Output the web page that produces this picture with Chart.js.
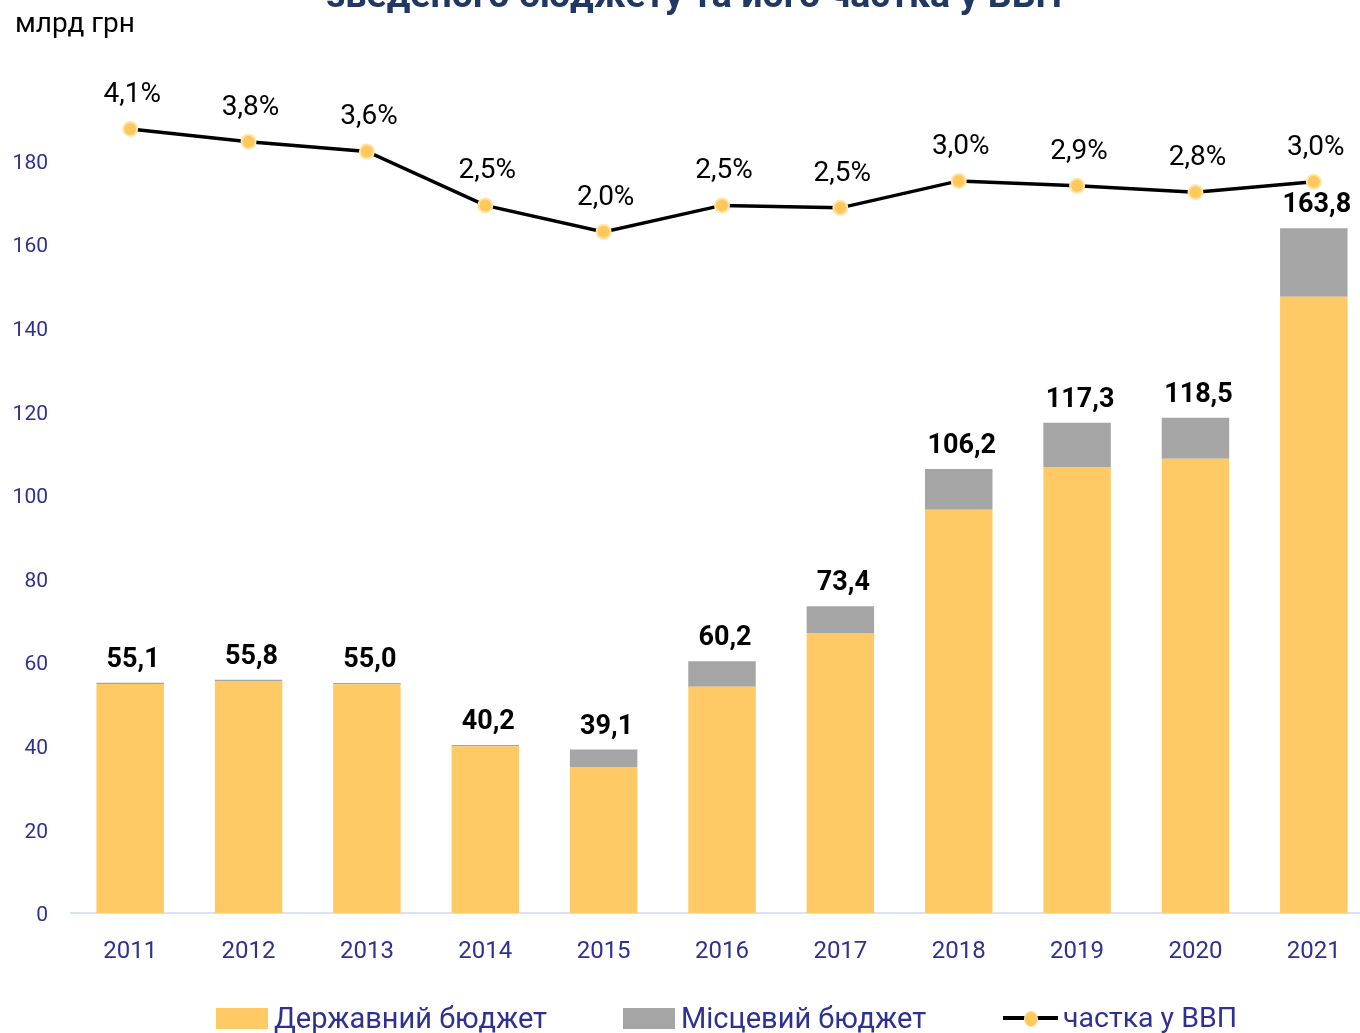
<!DOCTYPE html>
<html>
<head>
<meta charset="utf-8">
<script src="https://cdn.jsdelivr.net/npm/chart.js@4.4.0/dist/chart.umd.min.js"></script>
<style>
  body { margin: 0; overflow: hidden; background: #fff; font-family: Roboto, sans-serif; }
  #wrap { position: relative; width: 1382px; height: 1033px; }
  #chart { position: absolute; left: 0; top: 0; }
  .leg { position: absolute; top: 1001px; font-size: 29px; color: #2E3192; white-space: nowrap; display: flex; align-items: center; }
  .box { display: inline-block; width: 52px; height: 21px; margin-right: 6px; }
  .lineSym { position: relative; display: inline-block; width: 55px; height: 22px; margin-right: 5px; }
  .lineSym .ln { position: absolute; left: 0; right: 0; top: 9px; height: 4px; background: #000; }
  .lineSym .dt { position: absolute; left: 21px; top: 4px; width: 12px; height: 14px; border-radius: 50%; background: #FFC85C; border: 1px solid #FFE3A8; }
</style>
</head>
<body>
<div id="wrap">
  <canvas id="chart" width="1382" height="1033"></canvas>
  <div class="leg" style="left:216px"><span class="box" style="background:#FFCA66"></span>Державний бюджет</div>
  <div class="leg" style="left:623px"><span class="box" style="background:#A5A5A5"></span>Місцевий бюджет</div>
  <div class="leg" style="left:1003px; font-size:28.5px"><span class="lineSym"><span class="ln"></span><span class="dt"></span></span>частка у ВВП</div>
</div>
<script>
// data, млрд грн
var years = ['2011', '2012', '2013', '2014', '2015', '2016', '2017', '2018', '2019', '2020', '2021'];
var stateBudget = [54.8, 55.5, 54.7, 39.9, 34.9, 54.1, 67.0, 96.5, 106.7, 108.7, 147.4];
var localBudget = [0.3, 0.3, 0.3, 0.3, 4.2, 6.1, 6.4, 9.7, 10.6, 9.8, 16.4];
// частка у ВВП, %
var gdpShare = [4.1, 3.84, 3.64, 2.54, 2.0, 2.54, 2.49, 3.04, 2.94, 2.81, 3.02];

function fmt(v) {
    return v.toFixed(1).replace('.', ',');
}

var extras = {
    id: 'extras',
    afterDatasetsDraw: function (chart) {
        var ctx = chart.ctx;
        ctx.save();
        ctx.fillStyle = '#000';
        ctx.textAlign = 'center';
        ctx.textBaseline = 'alphabetic';

        // totals above stacked bars
        ctx.font = 'bold 27px Roboto';
        var top = chart.getDatasetMeta(1).data;
        top.forEach(function (bar, i) {
            ctx.fillText(fmt(stateBudget[i] + localBudget[i]), bar.x + 3, bar.y - 16);
        });

        // share labels above points
        ctx.font = '28px Roboto';
        var pts = chart.getDatasetMeta(2).data;
        pts.forEach(function (p, i) {
            ctx.fillText(fmt(gdpShare[i]) + '%', p.x + 2, p.y - 27);
        });

        // title (cut off on top) and unit
        ctx.font = 'bold 37.5px Roboto';
        ctx.fillStyle = '#1F3864';
        ctx.fillText('зведеного бюджету та його частка у ВВП', 694, 7);

        ctx.font = '28px Roboto';
        ctx.fillStyle = '#000';
        ctx.textAlign = 'left';
        ctx.fillText('млрд грн', 15, 32);
        ctx.restore();
    }
};

var ctx = document.getElementById('chart');

var myChart = new Chart(ctx, {
    type: 'bar',
    data: {
        labels: years,
        datasets: [{
            label: 'Державний бюджет',
            data: stateBudget,
            backgroundColor: '#FFCA66',
            stack: 's',
            order: 2,
            barPercentage: 0.57,
            categoryPercentage: 1
        }, {
            label: 'Місцевий бюджет',
            data: localBudget,
            backgroundColor: '#A5A5A5',
            stack: 's',
            order: 2,
            barPercentage: 0.57,
            categoryPercentage: 1
        }, {
            type: 'line',
            label: 'частка у ВВП',
            data: gdpShare,
            yAxisID: 'y1',
            borderColor: '#000',
            borderWidth: 3.5,
            pointRadius: 7,
            pointBackgroundColor: '#FFC85C',
            pointBorderColor: '#FFE3A8',
            pointBorderWidth: 2,
            tension: 0,
            order: 1
        }]
    },
    options: {
        responsive: false,
        animation: false,
        layout: {
            padding: { top: 77, right: 5, left: 0, bottom: 0 }
        },
        plugins: {
            legend: { display: false },
            title: { display: false },
            tooltip: { enabled: false }
        },
        scales: {
            x: {
                stacked: true,
                grid: { display: false, drawTicks: false },
                border: { display: true, color: '#DAE3F3', width: 2 },
                ticks: {
                    color: '#2E3192',
                    font: { size: 24, family: 'Roboto' },
                    padding: 25
                },
                afterFit: function (scale) { scale.height = 120; }
            },
            y: {
                stacked: true,
                min: 0,
                max: 200,
                grid: { display: false, drawTicks: false },
                border: { display: false },
                ticks: {
                    stepSize: 20,
                    color: '#2E3192',
                    font: { size: 21, family: 'Roboto' },
                    padding: 23,
                    labelOffset: 3,
                    callback: function (v) { return v > 180 ? '' : v; }
                },
                afterFit: function (scale) { scale.width = 71; }
            },
            y1: {
                display: false,
                min: -11.9,
                max: 5.16
            }
        }
    },
    plugins: [extras]
});
</script>
</body>
</html>
